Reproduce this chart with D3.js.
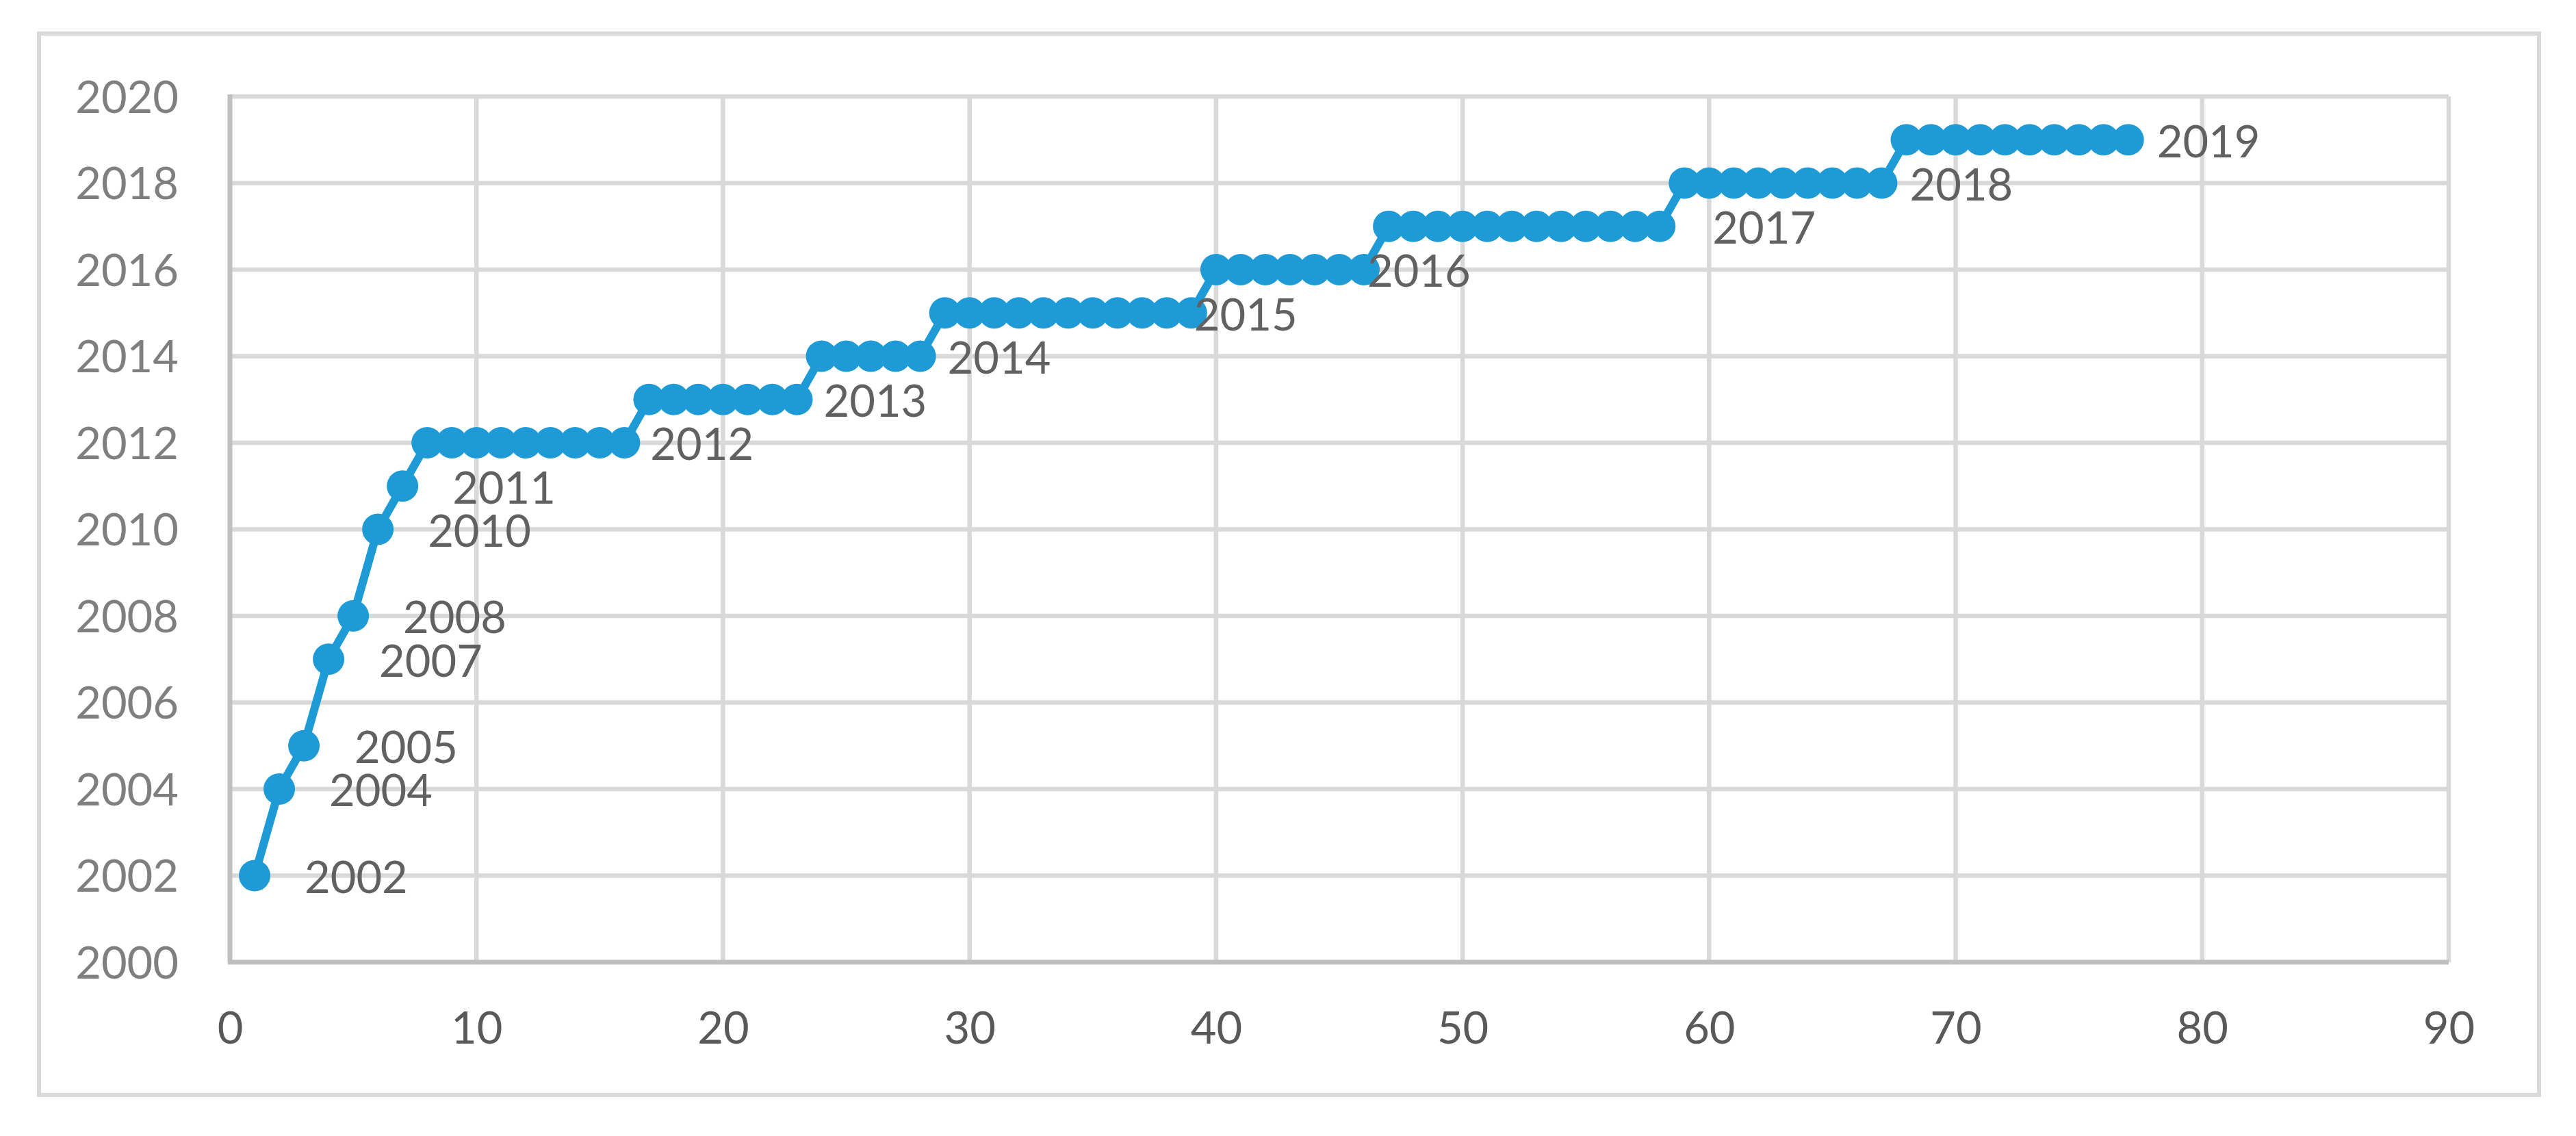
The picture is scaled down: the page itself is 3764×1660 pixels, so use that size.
<!DOCTYPE html>
<html>
<head>
<meta charset="utf-8">
<script src="https://cdn.jsdelivr.net/npm/d3@7"></script>
<style>
  html, body { margin: 0; padding: 0; background: #ffffff; }
  svg { display: block; }
</style>
</head>
<body>
<svg id="chart" width="3764" height="1660"></svg>
<script>
// ---------- DATA ----------
const pointIndex = [
  1, 2, 3, 4, 5, 6, 7, 8, 9, 10,
  11, 12, 13, 14, 15, 16, 17, 18, 19, 20,
  21, 22, 23, 24, 25, 26, 27, 28, 29, 30,
  31, 32, 33, 34, 35, 36, 37, 38, 39, 40,
  41, 42, 43, 44, 45, 46, 47, 48, 49, 50,
  51, 52, 53, 54, 55, 56, 57, 58, 59, 60,
  61, 62, 63, 64, 65, 66, 67, 68, 69, 70,
  71, 72, 73, 74, 75, 76, 77
];
const yearValues = [
  2002, 2004, 2005, 2007, 2008, 2010, 2011,
  2012, 2012, 2012, 2012, 2012, 2012, 2012, 2012, 2012,
  2013, 2013, 2013, 2013, 2013, 2013, 2013,
  2014, 2014, 2014, 2014, 2014,
  2015, 2015, 2015, 2015, 2015, 2015, 2015, 2015, 2015, 2015, 2015,
  2016, 2016, 2016, 2016, 2016, 2016, 2016,
  2017, 2017, 2017, 2017, 2017, 2017, 2017, 2017, 2017, 2017, 2017, 2017,
  2018, 2018, 2018, 2018, 2018, 2018, 2018, 2018, 2018,
  2019, 2019, 2019, 2019, 2019, 2019, 2019, 2019, 2019, 2019
];
// data labels: shown at the last point of each year
const labelIndex = [1, 2, 3, 4, 5, 6, 7, 16, 23, 28, 39, 46, 58, 67, 77];
const labelText  = ["2002","2004","2005","2007","2008","2010","2011","2012","2013","2014","2015","2016","2017","2018","2019"];
const xTicks = [0, 10, 20, 30, 40, 50, 60, 70, 80, 90];
const yTicks = [2000, 2002, 2004, 2006, 2008, 2010, 2012, 2014, 2016, 2018, 2020];

// ---------- LAYOUT (not data) ----------
const labelDx = [73, 73, 74, 74, 73, 73, 73, 38, 39, 40, 4, 5, 77, 41, 42];
const plot = { left: 336, right: 3578, top: 141, bottom: 1406 };
const frame = { left: 57, top: 49, right: 3710, bottom: 1600 };
const FONT = "Lato, 'Open Sans', sans-serif";
const lineColor = "#1e9bd7";

const svg = d3.select("#chart");

svg.append("rect")
  .attr("x", frame.left).attr("y", frame.top)
  .attr("width", frame.right - frame.left).attr("height", frame.bottom - frame.top)
  .attr("fill", "#ffffff").attr("stroke", "#d9d9d9").attr("stroke-width", 6);

const x = d3.scaleLinear().domain([0, 90]).range([plot.left, plot.right]);
const y = d3.scaleLinear().domain([2000, 2020]).range([plot.bottom, plot.top]);

// gridlines
const grid = svg.append("g");
grid.selectAll("line.h").data(yTicks.filter(d => d !== 2000)).join("line")
  .attr("x1", plot.left).attr("x2", plot.right)
  .attr("y1", d => y(d)).attr("y2", d => y(d))
  .attr("stroke", "#d9d9d9").attr("stroke-width", 6.5);
grid.selectAll("line.v").data(xTicks.filter(d => d !== 0)).join("line")
  .attr("x1", d => x(d)).attr("x2", d => x(d))
  .attr("y1", plot.top).attr("y2", plot.bottom)
  .attr("stroke", "#d9d9d9").attr("stroke-width", 6.5);

// axes
const xAxis = d3.axisBottom(x).tickValues(xTicks).tickSize(0).tickPadding(0).tickFormat(d3.format("d"));
const yAxis = d3.axisLeft(y).tickValues(yTicks).tickSize(0).tickPadding(0).tickFormat(d3.format("d"));

const gx = svg.append("g").attr("transform", `translate(0,${plot.bottom})`).call(xAxis);
gx.select(".domain").attr("stroke", "#bfbfbf").attr("stroke-width", 7).attr("d", `M${plot.left - 3},0H${plot.right}`);
gx.selectAll("text")
  .attr("font-family", FONT).attr("font-size", 65).attr("fill", "#595959")
  .attr("y", 96).attr("dy", "0.36em");

const gy = svg.append("g").attr("transform", `translate(${plot.left},0)`).call(yAxis);
gy.select(".domain").attr("stroke", "#bfbfbf").attr("stroke-width", 7).attr("d", `M0,${plot.top - 3}V${plot.bottom}`);
gy.selectAll("text")
  .attr("font-family", FONT).attr("font-size", 65).attr("fill", "#7f7f7f")
  .attr("x", -75).attr("dy", "0.36em").attr("text-anchor", "end");

// series
const data = pointIndex.map((d, i) => ({ x: d, y: yearValues[i] }));
const line = d3.line().x(d => x(d.x)).y(d => y(d.y));
svg.append("path").datum(data)
  .attr("d", line).attr("fill", "none")
  .attr("stroke", lineColor).attr("stroke-width", 12).attr("stroke-linejoin", "round");

svg.append("g").selectAll("circle").data(data).join("circle")
  .attr("cx", d => x(d.x)).attr("cy", d => y(d.y)).attr("r", 23)
  .attr("fill", lineColor);

// data labels
const labels = labelIndex.map((idx, i) => {
  const p = data[pointIndex.indexOf(idx)];
  return { x: p.x, y: p.y, text: labelText[i], dx: labelDx[i] };
});
svg.append("g").selectAll("text").data(labels).join("text")
  .attr("x", d => x(d.x) + d.dx).attr("y", d => y(d.y) + 2)
  .attr("dy", "0.36em")
  .attr("font-family", FONT).attr("font-size", 65).attr("fill", "#616161")
  .text(d => d.text);
</script>
</body>
</html>
